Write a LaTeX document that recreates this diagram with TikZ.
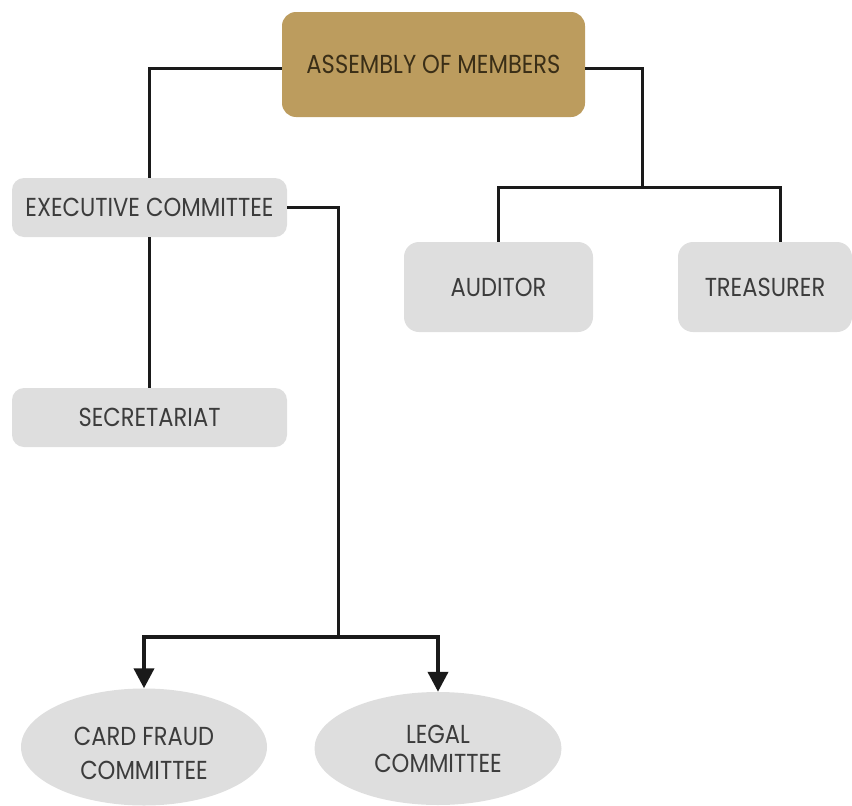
\documentclass[tikz,border=0pt]{standalone}
\usepackage{fontspec}
\setmainfont{Poppins}
\usetikzlibrary{arrows.meta,shapes.geometric}
\definecolor{gold}{HTML}{BC9C5E}
\definecolor{goldtext}{HTML}{3A2E17}
\definecolor{boxgray}{HTML}{DEDEDE}
\definecolor{txtgray}{HTML}{3C3C3C}
\definecolor{linecol}{HTML}{1A1A1A}
\newcommand{\sq}[1]{\scalebox{0.87}[1]{#1}}
\tikzset{
  lbl/.style={font=\fontsize{26}{31}\selectfont, text=txtgray, inner sep=0pt, align=center},
  graybox/.style={lbl, fill=boxgray, rounded corners=12pt},
  goldbox/.style={lbl, fill=gold, text=goldtext, rounded corners=14pt},
  oval/.style={lbl, ellipse, fill=boxgray},
  conn/.style={draw=linecol, line width=3pt},
  arr/.style={draw=linecol, line width=4pt, -{Triangle[width=20pt,length=20pt]}}
}
\begin{document}
\begin{tikzpicture}[x=1pt,y=-1pt]
\useasboundingbox (0,0) rectangle (852,806);
\node[goldbox, minimum width=303pt, minimum height=105pt] (asm) at (433.5,64.5) {\sq{ASSEMBLY OF MEMBERS}};
\node[graybox, minimum width=275pt, minimum height=59pt] (exec) at (149.5,207.5) {\sq{EXECUTIVE COMMITTEE}};
\node[graybox, minimum width=275pt, minimum height=59pt] (sec) at (149.5,417.5) {\sq{SECRETARIAT}};
\node[graybox, rounded corners=15pt, minimum width=189pt, minimum height=90pt] (aud) at (498.5,287) {\sq{AUDITOR}};
\node[graybox, rounded corners=15pt, minimum width=174pt, minimum height=90pt] (treas) at (765,287) {\sq{TREASURER}};
\node[oval, font=\fontsize{26}{34}\selectfont, minimum width=246pt, minimum height=117pt] (card) at (144,747) {\rule{0pt}{32pt}\sq{CARD FRAUD}\\\sq{COMMITTEE}};
\node[oval, font=\fontsize{26}{29}\selectfont, minimum width=247pt, minimum height=113pt] (legal) at (438,748.5) {\sq{LEGAL}\\\sq{COMMITTEE}};
\coordinate (jr) at (642,187);
\coordinate (jb) at (338,637);
\coordinate (tr) at (780,242);
\draw[conn] ([yshift=-3.5pt]asm.west) -| (exec.north);
\draw[conn] ([yshift=-3.5pt]asm.east) -| (jr);
\draw[conn] (aud.north) |- (jr) -| (tr);
\draw[conn] (exec.south) -- (sec.north);
\draw[conn] (exec.east) -| (jb);
\draw[arr] (jb) -| (card.north);
\draw[arr] (jb) -| (legal.north);
\end{tikzpicture}
\end{document}
